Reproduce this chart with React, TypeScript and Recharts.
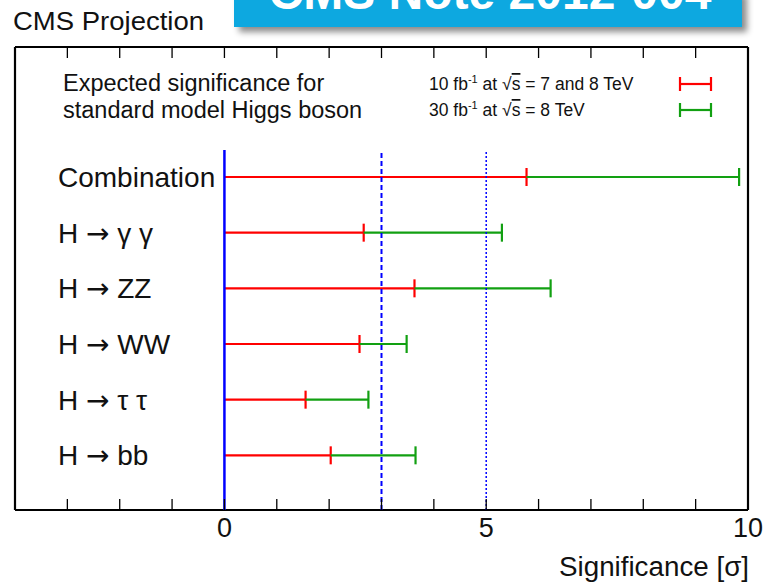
import React from 'react'
import {
  ComposedChart, Bar, Scatter, XAxis, YAxis, CartesianGrid, ReferenceLine,
} from 'recharts'

const channels = ['Combination', 'H \u2192 \u03b3 \u03b3', 'H \u2192 ZZ', 'H \u2192 WW', 'H \u2192 \u03c4 \u03c4', 'H \u2192 bb']
// expected significance, 10 fb-1 at 7+8 TeV
const sig10 = [5.77, 2.66, 3.63, 2.58, 1.55, 2.03]
// expected significance, 30 fb-1 at 8 TeV
const sig30 = [9.83, 5.30, 6.23, 3.48, 2.75, 3.65]
const xTicks = [-4, -3, -2, -1, 0, 1, 2, 3, 4, 5, 6, 7, 8, 9, 10]
const xLabels = [0, 5, 10]
const xDomain = [-4, 10]
// guide lines at 0, 3 and 5 sigma; they run up to this row height (bb = 1 ... Combination = 6)
const guideX = [0, 3, 5]
const guideTop = 6.5
const rowsMax = 8.36

const RED = '#ff0000'
const GREEN = '#12a012'
const BLUE = '#0000ff'
const FONT = '"Liberation Sans", Arial, Helvetica, sans-serif'

// frame geometry (plot area of the chart below)
const W = 768
const H = 584
const M_TOP = 47
const M_LEFT = 14
const M_RIGHT = 20
const Y_AXIS_W = 1
const PLOT_L = M_LEFT + Y_AXIS_W
const PLOT_W = W - M_RIGHT - PLOT_L
const tickPx = (t: number) => PLOT_L + ((t - xDomain[0]) / (xDomain[1] - xDomain[0])) * PLOT_W

const data = channels.map((name, i) => ({
  name,
  low: sig10[i],
  extra: sig30[i] - sig10[i],
}))
const guides = guideX.map((g) => ({ gx: g, gy: guideTop }))

function errShape(color: string) {
  return (props: any) => {
    const { x, y, width, height } = props
    const cy = y + height / 2
    return (
      <g>
        <line x1={x} y1={cy} x2={x + width} y2={cy} stroke={color} strokeWidth={2.2} />
        <line x1={x + width} y1={cy - 9} x2={x + width} y2={cy + 9} stroke={color} strokeWidth={2.2} />
      </g>
    )
  }
}

function FrameTick(props: any) {
  const { x, y, payload } = props
  const v = payload.value
  return (
    <g>
      <line x1={x} y1={y} x2={x} y2={y - 11} stroke="#000" strokeWidth={1.3} />
      {xLabels.includes(v) && (
        <text x={x} y={y + 27} textAnchor="middle" fontSize={27} fill="#111" fontFamily={FONT}>{v}</text>
      )}
    </g>
  )
}

function ChannelTick(props: any) {
  const { x, y, payload } = props
  const parts = String(payload.value).split('\u2192')
  return (
    <text x={x + 43} y={y} dy="0.36em" textAnchor="start" fontSize={28} fill="#111" fontFamily={FONT}>
      {parts.length === 1 ? parts[0] : (
        <>
          {parts[0]}
          <tspan fontFamily='"DejaVu Sans"'>{'\u2192'}</tspan>
          {parts[1]}
        </>
      )}
    </text>
  )
}

export default function App() {
  return (
    <div style={{ position: 'absolute', left: 0, top: 0, width: W, height: H, background: '#fff', fontFamily: FONT }}>
      <ComposedChart
        width={W}
        height={H}
        layout="vertical"
        data={data}
        margin={{ top: M_TOP, right: M_RIGHT, bottom: 0, left: M_LEFT }}
        barCategoryGap={0}
      >
        <CartesianGrid
          stroke="#000"
          strokeWidth={2.2}
          fill="none"
          horizontalCoordinatesGenerator={({ offset }: any) => [offset.top, offset.top + offset.height]}
          verticalCoordinatesGenerator={({ offset }: any) => [offset.left, offset.left + offset.width]}
        />
        <XAxis
          type="number"
          domain={xDomain}
          ticks={xTicks}
          interval={0}
          allowDataOverflow
          axisLine={false}
          tickLine={false}
          tickSize={0}
          tickMargin={0}
          height={74}
          tick={<FrameTick />}
        />
        <YAxis
          type="category"
          dataKey="name"
          width={Y_AXIS_W}
          axisLine={false}
          tickLine={false}
          tickSize={0}
          tickMargin={0}
          interval={0}
          padding={{ top: 102, bottom: 27 }}
          tick={<ChannelTick />}
        />
        <YAxis yAxisId="rows" type="number" dataKey="gy" domain={[0, rowsMax]} reversed hide allowDataOverflow />
        <ReferenceLine
          yAxisId="rows"
          ifOverflow="visible"
          segment={[{ x: guideX[1], y: 0 }, { x: guideX[1], y: guideTop }]}
          stroke={BLUE}
          strokeWidth={2}
          strokeDasharray="5 3"
        />
        <ReferenceLine
          yAxisId="rows"
          ifOverflow="visible"
          segment={[{ x: guideX[2], y: 0 }, { x: guideX[2], y: guideTop }]}
          stroke={BLUE}
          strokeWidth={1.5}
          strokeDasharray="2 2"
        />
        <Bar dataKey="low" stackId="s" fill={RED} shape={errShape(RED)} isAnimationActive={false} />
        <Bar dataKey="extra" stackId="s" fill={GREEN} shape={errShape(GREEN)} isAnimationActive={false} />
        <Scatter
          data={guides}
          yAxisId="rows"
          dataKey="gy"
          shape={() => <g />}
          isAnimationActive={false}
        />
        <ReferenceLine
          yAxisId="rows"
          ifOverflow="visible"
          segment={[{ x: guideX[0], y: 0 }, { x: guideX[0], y: guideTop }]}
          stroke={BLUE}
          strokeWidth={2.5}
        />
      </ComposedChart>

      <svg width={W} height={H} style={{ position: 'absolute', left: 0, top: 0, pointerEvents: 'none' }}>
        <defs>
          <filter id="shadow" x="-10%" y="-50%" width="130%" height="250%">
            <feDropShadow dx={5} dy={5} stdDeviation={3} floodColor="#000" floodOpacity={0.45} />
          </filter>
        </defs>
        {/* inward ticks on the top edge of the frame */}
        {xTicks.map((t) => (
          <line key={t} x1={tickPx(t)} y1={M_TOP} x2={tickPx(t)} y2={M_TOP + 11} stroke="#000" strokeWidth={1.3} />
        ))}
        <rect x={234} y={-10} width={508} height={37} fill="#0ea8e0" filter="url(#shadow)" />
        <text x={490} y={9} textAnchor="middle" fontSize={48} fontWeight="bold" fill="#fff" fontFamily={FONT}>
          CMS Note 2012-004
        </text>
        <text x={13} y={30} fontSize={25} textLength={191} lengthAdjust="spacingAndGlyphs" fill="#111" fontFamily={FONT}>
          CMS Projection
        </text>

        <text x={63} y={91} fontSize={23.5} fill="#111" fontFamily={FONT}>Expected significance for</text>
        <text x={63} y={118} fontSize={23.5} fill="#111" fontFamily={FONT}>standard model Higgs boson</text>

        <text x={429} y={90} fontSize={17.5} fill="#111" fontFamily={FONT}>
          10 fb<tspan dy={-7} fontSize={11}>-1</tspan><tspan dy={7}> at  √</tspan>
          <tspan style={{ textDecoration: 'overline' }}>s</tspan> = 7 and 8 TeV
        </text>
        <text x={429} y={116} fontSize={17.5} fill="#111" fontFamily={FONT}>
          30 fb<tspan dy={-7} fontSize={11}>-1</tspan><tspan dy={7}> at  √</tspan>
          <tspan style={{ textDecoration: 'overline' }}>s</tspan> = 8 TeV
        </text>
        <g stroke={RED} strokeWidth={2.2}>
          <line x1={680} y1={84} x2={711} y2={84} />
          <line x1={680} y1={77} x2={680} y2={91} />
          <line x1={711} y1={77} x2={711} y2={91} />
        </g>
        <g stroke={GREEN} strokeWidth={2.2}>
          <line x1={680} y1={110} x2={711} y2={110} />
          <line x1={680} y1={103} x2={680} y2={117} />
          <line x1={711} y1={103} x2={711} y2={117} />
        </g>

        <text x={749} y={576} textAnchor="end" fontSize={27} textLength={190} lengthAdjust="spacingAndGlyphs" fill="#111" fontFamily={FONT}>
          Significance [σ]
        </text>
      </svg>
    </div>
  )
}
